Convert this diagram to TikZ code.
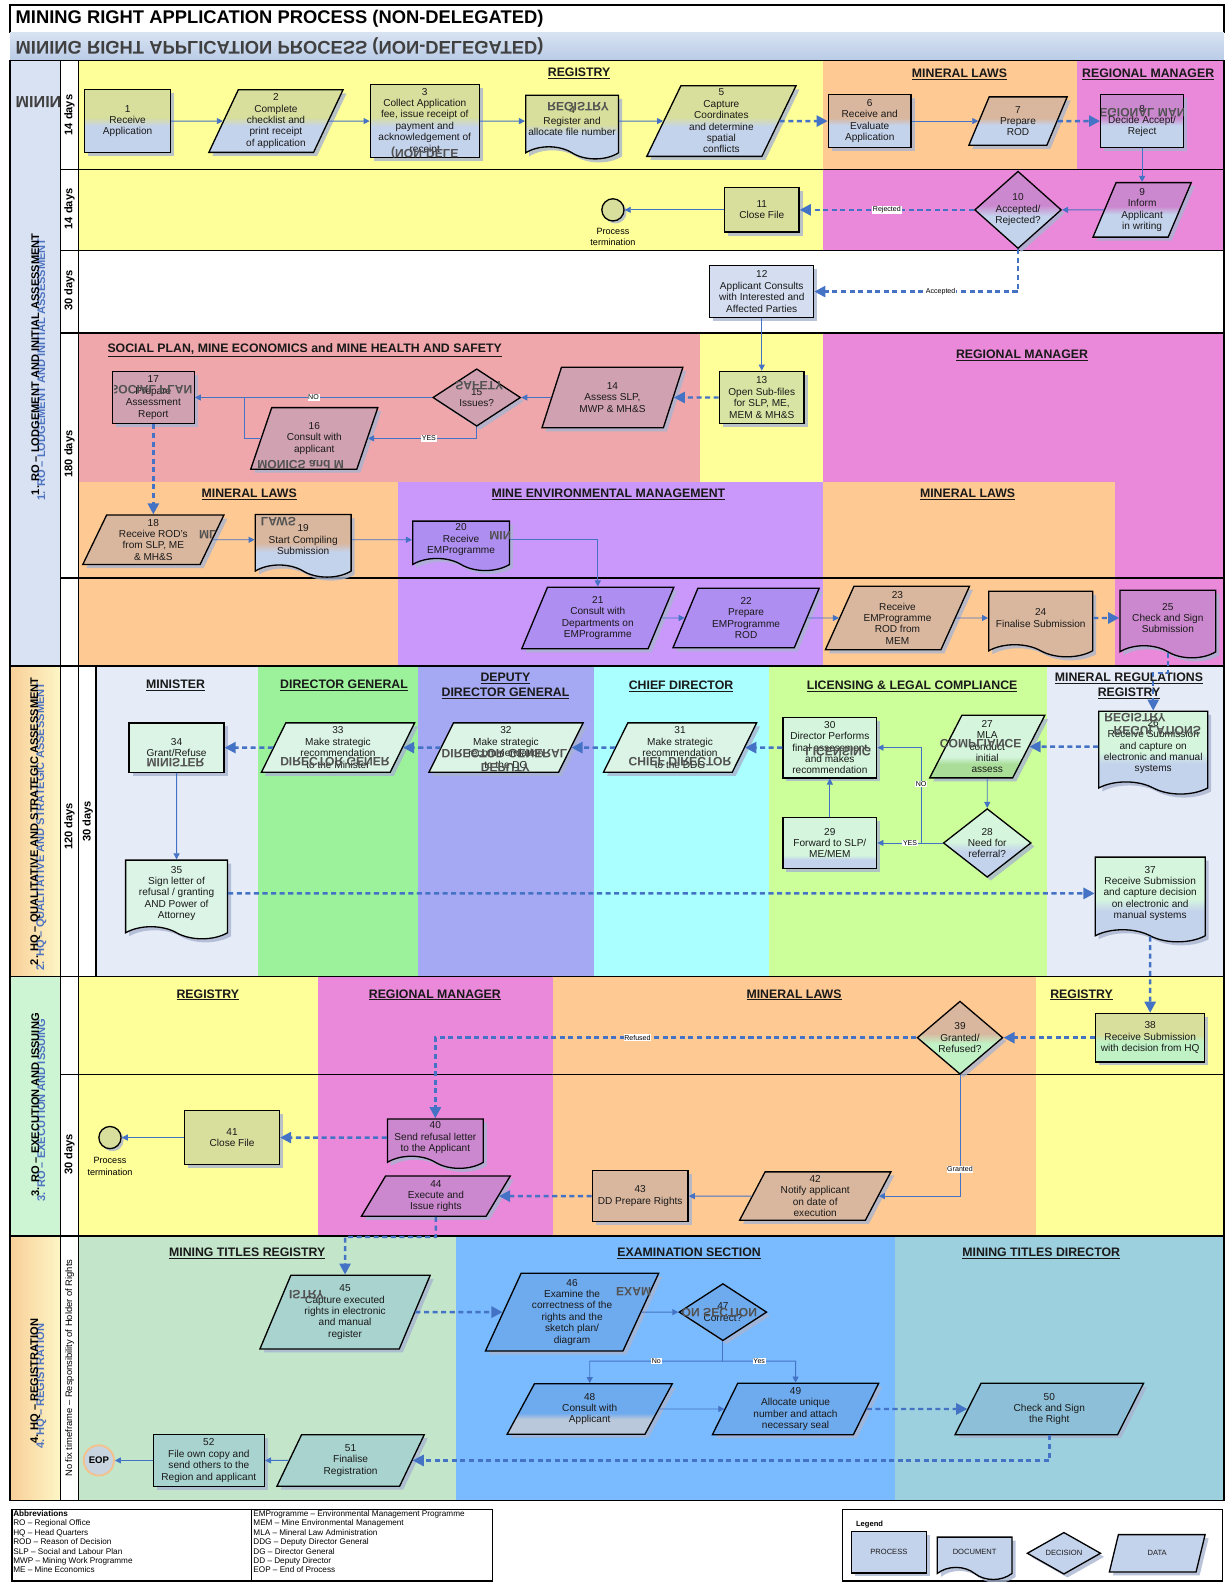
\documentclass[tikz,border=0pt]{standalone}
\usepackage{fontspec}
\setmainfont{Liberation Sans}
\usetikzlibrary{shapes.geometric,shapes.symbols,arrows.meta,shadows,calc}
\definecolor{cBl}{HTML}{C4D3EC}
\definecolor{cY}{HTML}{D8DE9C}
\definecolor{cO}{HTML}{D9B79E}
\definecolor{cP}{HTML}{CC88CF}
\definecolor{cM}{HTML}{CFA1B1}
\definecolor{cV}{HTML}{AE8EF1}
\definecolor{cG}{HTML}{D5F6DD}
\definecolor{cG3}{HTML}{DCF4E6}
\definecolor{cG27}{HTML}{A9DD98}
\definecolor{cW}{HTML}{D4DEF0}
\definecolor{c13}{HTML}{D7E4A4}
\definecolor{cGr}{HTML}{C0F2C6}
\definecolor{cT}{HTML}{A9D3CF}
\definecolor{cE}{HTML}{6EAAEE}
\definecolor{cE2}{HTML}{B9C8DA}
\definecolor{cD}{HTML}{8DC0D8}
\definecolor{shc}{HTML}{A8B4D0}
\definecolor{lc}{HTML}{4472C4}
\definecolor{txt}{HTML}{1A1A1A}
\definecolor{cLY}{HTML}{FFFF99}
\definecolor{cLO}{HTML}{FFC993}
\definecolor{cLP}{HTML}{EA88DA}
\definecolor{cLS}{HTML}{EFA7AB}
\definecolor{cLV}{HTML}{CA98FB}
\definecolor{cLMin}{HTML}{E6ECF7}
\definecolor{cLDG}{HTML}{9BF29B}
\definecolor{cLDDG}{HTML}{A5A8F2}
\definecolor{cLCD}{HTML}{AAFFFF}
\definecolor{cLLic}{HTML}{CCFF99}
\definecolor{cLT}{HTML}{C3E6CB}
\definecolor{cLE}{HTML}{7ABBFF}
\definecolor{cLD}{HTML}{9DD0DE}
\definecolor{band1}{HTML}{D9E2F3}
\definecolor{ph2L}{HTML}{F9CF98}
\definecolor{ph2R}{HTML}{FDF6C6}
\definecolor{ph3}{HTML}{CDF5D3}
\definecolor{phblue}{HTML}{4F74C0}
\definecolor{hdrT}{HTML}{D8E3F2}
\definecolor{hdrB}{HTML}{B9CBE6}
\definecolor{eopO}{HTML}{F5C08A}
\definecolor{eopF}{HTML}{C8D4DF}
\pgfdeclareverticalshading{shY}{100bp}{color(0bp)=(cBl); color(46bp)=(cBl); color(53bp)=(cY); color(100bp)=(cY)}
\pgfdeclareverticalshading{shO}{100bp}{color(0bp)=(cBl); color(46bp)=(cBl); color(53bp)=(cO); color(100bp)=(cO)}
\pgfdeclareverticalshading{shP}{100bp}{color(0bp)=(cBl); color(46bp)=(cBl); color(53bp)=(cP); color(100bp)=(cP)}
\pgfdeclareverticalshading{shG}{100bp}{color(0bp)=(cBl); color(44bp)=(cBl); color(51bp)=(cG); color(100bp)=(cG)}
\pgfdeclareverticalshading{shGs}{100bp}{color(0bp)=(cBl); color(34bp)=(cBl); color(38bp)=(cG); color(100bp)=(cG)}
\pgfdeclareverticalshading{shG27}{100bp}{color(0bp)=(cG27); color(36bp)=(cG27); color(42bp)=(cG); color(100bp)=(cG)}
\pgfdeclareverticalshading{sh38}{100bp}{color(0bp)=(cGr); color(46bp)=(cGr); color(53bp)=(cY); color(100bp)=(cY)}
\pgfdeclareverticalshading{sh39}{100bp}{color(0bp)=(cGr); color(46bp)=(cGr); color(53bp)=(cO); color(100bp)=(cO)}
\pgfdeclareverticalshading{shE2}{100bp}{color(0bp)=(cE2); color(40bp)=(cE2); color(46bp)=(cE); color(100bp)=(cE)}
\newcommand{\ghostat}[6]{%
  \begin{scope}\clip (#1,#2) rectangle (#3,#4);
  \node[yscale=-1, font=\bfseries\fontsize{12}{13}\selectfont, text=black!68, inner sep=0pt] at (#5) {#6};
  \end{scope}}
\tikzset{
  nb/.style={draw=black, line width=1.3pt, align=center, inner sep=0pt, text=txt,
    font=\fontsize{10}{11.3}\selectfont,
    drop shadow={shadow xshift=3.5pt, shadow yshift=-3.5pt, fill=shc, opacity=0.8}},
  proc/.style={nb, rectangle},
  data/.style={nb, trapezium, trapezium left angle=67, trapezium right angle=113, trapezium stretches=true},
  docu/.style={nb, tape, tape bend top=none, tape bend bottom=out and in, tape bend height=12pt},
  deci/.style={nb, diamond},
  wh/.style 2 args={minimum width=#1, minimum height=#2},
  sh/.style={shade, shading=#1},
  sl/.style={draw=lc, line width=0.9pt, -{Triangle[length=6pt,width=6pt]}},
  dl/.style={draw=lc, line width=2.4pt, dash pattern=on 5pt off 3.5pt, -{Triangle[length=11pt,width=11pt]}},
  lab/.style={fill=white, inner sep=0.7pt, font=\fontsize{7}{8}\selectfont, text=black},
  lane/.style={font=\bfseries\fontsize{12.2}{14.5}\selectfont, align=center, text=black!90},
  tday/.style={rotate=90, font=\bfseries\fontsize{11}{13}\selectfont},
  frame/.style={line width=1.3pt, draw=black},
  phl/.style={rotate=90, font=\bfseries\fontsize{11}{13}\selectfont},
  term/.style={circle, draw=black, line width=1.3pt, inner sep=0pt, minimum size=22pt,
    drop shadow={shadow xshift=2.5pt, shadow yshift=-2.5pt, fill=shc, opacity=0.8}},
}
\begin{document}
\begin{tikzpicture}[x=1pt,y=-1pt]
\useasboundingbox (0,0) rectangle (1219,1568);
\fill[white] (0,0) rectangle (1219,1568);
% ---------- header
\draw[frame, fill=white] (10,5) rectangle (1213,32);
\node[anchor=west, font=\bfseries\fontsize{18.2}{20}\selectfont] (title) at (12,18.5) {MINING RIGHT APPLICATION PROCESS (NON-DELEGATED)};
\shade[top color=hdrT, bottom color=hdrB] (10,32) rectangle (1213,60);
\node[anchor=west, yscale=-1, font=\bfseries\fontsize{18.2}{20}\selectfont, text=black!75] (mirror) at (12,46) {MINING RIGHT APPLICATION PROCESS (NON-DELEGATED)};
% ---------- lanes phase 1
\fill[cLY] (78,60) rectangle (816,168);
\fill[cLO] (816,60) rectangle (1067,168);
\fill[cLP] (1067,60) rectangle (1213,168);
\fill[cLY] (78,168) rectangle (816,248);
\fill[cLP] (816,168) rectangle (1213,248);
\fill[white] (78,248) rectangle (1213,330);
\fill[cLS] (78,330) rectangle (694,478);
\fill[cLY] (694,330) rectangle (816,478);
\fill[cLP] (816,330) rectangle (1213,478);
\fill[cLO] (78,478) rectangle (394.5,660);
\fill[cLV] (394.5,478) rectangle (816,660);
\fill[cLO] (816,478) rectangle (1105,660);
\fill[cLP] (1105,478) rectangle (1213,660);
% phase 2
\fill[cLMin] (95,660) rectangle (255.5,968);
\fill[cLDG] (255.5,660) rectangle (414,968);
\fill[cLDDG] (414,660) rectangle (588.5,968);
\fill[cLCD] (588.5,660) rectangle (762,968);
\fill[cLLic] (762,660) rectangle (1038,968);
\fill[cLMin] (1038,660) rectangle (1213,968);
% phase 3
\fill[cLY] (78,968) rectangle (315,1225);
\fill[cLP] (315,968) rectangle (548,1225);
\fill[cLO] (548,968) rectangle (1027,1225);
\fill[cLY] (1027,968) rectangle (1213,1225);
% phase 4
\fill[cLT] (78,1225) rectangle (452,1487);
\fill[cLE] (452,1225) rectangle (887,1487);
\fill[cLD] (887,1225) rectangle (1213,1487);
% left band
\fill[band1] (10,60) rectangle (60,660);
\shade[left color=ph2L, right color=ph2R] (10,660) rectangle (60,968);
\fill[ph3] (10,968) rectangle (60,1225);
\shade[left color=ph2L, right color=ph2R] (10,1225) rectangle (60,1487);
\fill[white] (60,60) rectangle (78,1487);
\fill[white] (78,660) rectangle (95,968);
\begin{scope}
\clip (10,60) rectangle (60,168);
\node[anchor=west, yscale=-1, font=\bfseries\fontsize{16}{18}\selectfont, text=black!75] at (12,101) {MINING RIGHT};
\end{scope}
% ---------- frame lines
\draw[frame] (10,60) rectangle (1213,1487);
\draw[frame] (60,60) -- (60,1487);
\draw[frame] (78,60) -- (78,1487);
\draw[frame] (95,660) -- (95,968);
\foreach \yy in {168,248,330,573,1065} \draw[frame] (60,\yy) -- (1213,\yy);
\foreach \yy in {660,968,1225} \draw[frame] (10,\yy) -- (1213,\yy);
% ---------- phase labels
\node[phl, text=phblue] (p1b) at (41,366) {1. RO – LODGEMENT AND INITIAL ASSESSMENT};
\node[phl] (p1) at (35,361) {1. RO – LODGEMENT AND INITIAL ASSESSMENT};
\node[phl, text=phblue] (p2b) at (41,819) {2. HQ – QUALITATIVE AND STRATEGIC ASSESSMENT};
\node[phl] (p2) at (35,814) {2. HQ – QUALITATIVE AND STRATEGIC ASSESSMENT};
\node[phl, text=phblue] (p3b) at (41,1100) {3. RO – EXECUTION AND ISSUING};
\node[phl] (p3) at (35,1095) {3. RO – EXECUTION AND ISSUING};
\node[phl, text=phblue] (p4b) at (41,1374) {4. HQ – REGISTRATION};
\node[phl] (p4) at (35,1369) {4. HQ – REGISTRATION};
% ---------- time labels
\node[tday] (d1) at (69,114) {14 days};
\node[tday] (d2) at (69,207) {14 days};
\node[tday] (d3) at (69,288) {30 days};
\node[tday] (d4) at (69,450) {180 days};
\node[tday] (d5) at (69,819) {120 days};
\node[tday] (d6) at (87,814) {30 days};
\node[tday] (d7) at (69,1144) {30 days};
\node[rotate=90, font=\fontsize{9.3}{11}\selectfont] (d8) at (69,1356) {No fix timeframe – Responsibility of Holder of Rights};
% ---------- lane labels
\node[lane] (l1) at (574,73) {\underline{REGISTRY}};
\node[lane] (l2) at (951,74) {\underline{MINERAL LAWS}};
\node[lane] (l3) at (1138,74) {\underline{REGIONAL MANAGER}};
\node[lane] (l4) at (302,347) {\underline{SOCIAL PLAN, MINE ECONOMICS and MINE HEALTH AND SAFETY}};
\node[lane] (l5) at (1013,352) {\underline{REGIONAL MANAGER}};
\node[lane] (l6) at (247,490) {\underline{MINERAL LAWS}};
\node[lane] (l7) at (603,490) {\underline{MINE ENVIRONMENTAL MANAGEMENT}};
\node[lane] (l8) at (959,490) {\underline{MINERAL LAWS}};
\node[lane] (l9) at (174,679) {\underline{MINISTER}};
\node[lane] (l10) at (341,679) {\underline{DIRECTOR GENERAL}};
\node[lane] (l11) at (501,680) {\underline{DEPUTY}\\\underline{DIRECTOR GENERAL}};
\node[lane] (l12) at (675,680) {\underline{CHIEF DIRECTOR}};
\node[lane] (l13) at (904,680) {\underline{LICENSING \& LEGAL COMPLIANCE}};
\node[lane] (l14) at (1119,680) {\underline{MINERAL REGULATIONS}\\\underline{REGISTRY}};
\node[lane] (l15) at (206,986) {\underline{REGISTRY}};
\node[lane] (l16) at (431,986) {\underline{REGIONAL MANAGER}};
\node[lane] (l17) at (787,986) {\underline{MINERAL LAWS}};
\node[lane] (l18) at (1072,986) {\underline{REGISTRY}};
\node[lane] (l19) at (245,1242) {\underline{MINING TITLES REGISTRY}};
\node[lane] (l20) at (683,1242) {\underline{EXAMINATION SECTION}};
\node[lane] (l21) at (1032,1242) {\underline{MINING TITLES DIRECTOR}};
% ---------- nodes phase 1
\node[proc, wh={85}{62}, sh=shY] (n1) at (126.5,120) {1\\Receive\\Application};
\node[data, wh={133}{62}, sh=shY] (n2) at (273.5,120) {2\\Complete\\checklist and\\print receipt\\of application};
\node[proc, wh={108}{72}, sh=shY] (n3) at (421,120) {3\\Collect Application\\fee, issue receipt of\\payment and\\acknowledgement of\\receipt};
\node[docu, wh={92}{63}, sh=shY] (n4) at (567,120) {4\\Register and\\allocate file number};
\node[data, wh={148}{70}, sh=shY] (n5) at (715,120) {5\\Capture\\Coordinates\\and determine\\spatial\\conflicts};
\node[proc, wh={82}{53}, sh=shO] (n6) at (862,120) {6\\Receive and\\Evaluate\\Application};
\node[data, wh={98}{48}, sh=shO] (n7) at (1009,120) {7\\Prepare\\ROD};
\node[proc, wh={82}{53}, sh=shP] (n8) at (1132,120) {8\\Decide Accept/\\Reject};
\node[data, wh={98}{54}, sh=shP] (n9) at (1132,208) {9\\Inform\\Applicant\\in writing};
\node[deci, wh={86}{73}, sh=shP] (n10) at (1009,208) {10\\Accepted/\\Rejected?};
\node[proc, wh={74}{44}, fill=cY] (n11) at (755,208) {11\\Close File};
\node[term, fill=cY] (t1) at (607.5,208) {};
\node[align=center, font=\fontsize{9}{11.5}\selectfont] (t1l) at (607.5,235) {Process\\termination};
\node[proc, wh={103}{52}, fill=cW] (n12) at (755,289) {12\\Applicant Consults\\with Interested and\\Affected Parties};
\node[proc, wh={84}{52}, fill=c13] (n13) at (755,394) {13\\Open Sub-files\\for SLP, ME,\\MEM \& MH\&S};
\node[data, wh={140}{60}, fill=cM] (n14) at (607,394) {14\\Assess SLP,\\MWP \& MH\&S};
\node[deci, wh={87}{57}, fill=cM] (n15) at (472.5,394) {15\\Issues?};
\node[data, wh={127}{61}, fill=cM] (n16) at (311.5,434.5) {16\\Consult with\\applicant};
\node[proc, wh={81}{52}, fill=cM] (n17) at (152,394) {17\\Prepare\\Assessment\\Report};
\node[data, wh={140}{49}, fill=cO] (n18) at (152,535) {18\\Receive ROD's\\from SLP, ME\\\& MH\&S};
\node[docu, wh={95}{62}, sh=shO] (n19) at (300.5,535) {19\\Start Compiling\\Submission};
\node[docu, wh={96}{49}, fill=cV] (n20) at (457,535) {20\\Receive\\EMProgramme};
\node[data, wh={151}{61}, fill=cV] (n21) at (592.5,612.5) {21\\Consult with\\Departments on\\EMProgramme};
\node[data, wh={145}{59}, fill=cV] (n22) at (739.5,612.5) {22\\Prepare\\EMProgramme\\ROD};
\node[data, wh={143}{63}, fill=cO] (n23) at (889.5,612.5) {23\\Receive\\EMProgramme\\ROD from\\MEM};
\node[docu, wh={103}{65}, fill=cO] (n24) at (1031.5,612.5) {24\\Finalise Submission};
\node[docu, wh={95}{67}, fill=cP] (n25) at (1157.5,612.5) {25\\Check and Sign\\Submission};
% ---------- phase 2
\node[docu, wh={108}{82}, sh=shG] (n26) at (1143,740) {26\\Receive Submission\\and capture on\\electronic and manual\\systems};
\node[data, wh={115}{62}, sh=shG27] (n27) at (978.5,740) {27\\MLA\\conduct\\initial\\assess};
\node[deci, wh={87}{56}, sh=shG] (n28) at (978.5,835.5) {28\\Need for\\referral?};
\node[proc, wh={93}{51}, sh=shGs] (n29) at (822.5,835.5) {29\\Forward to SLP/\\ME/MEM};
\node[proc, wh={93}{60}, fill=cG] (n30) at (822.5,741) {30\\Director Performs\\final assessment\\and makes\\recommendation};
\node[data, wh={152}{49}, fill=cG3] (n31) at (674,741) {31\\Make strategic\\recommendation\\to the DDG};
\node[data, wh={153}{49}, fill=cG3] (n32) at (501.5,741) {32\\Make strategic\\recommendation\\to the DG};
\node[data, wh={152}{49}, fill=cG3] (n33) at (335,741) {33\\Make strategic\\recommendation\\to the Minister};
\node[proc, wh={94}{49}, fill=cG3] (n34) at (175,741) {34\\Grant/Refuse};
\node[docu, wh={101}{78}, fill=cG3] (n35) at (175,885.5) {35\\Sign letter of\\refusal / granting\\AND Power of\\Attorney};
\node[docu, wh={109}{84}, sh=shG] (n37) at (1140,885.5) {37\\Receive Submission\\and capture decision\\on electronic and\\manual systems};
% ---------- phase 3
\node[proc, wh={108}{48}, sh=sh38] (n38) at (1140,1028.5) {38\\Receive Submission\\with decision from HQ};
\node[deci, wh={85}{57}, sh=sh39] (n39) at (951.5,1028.5) {39\\Granted/\\Refused?};
\node[docu, wh={95}{49}, fill=cP] (n40) at (431.5,1127.5) {40\\Send refusal letter\\to the Applicant};
\node[proc, wh={94}{53}, fill=cY] (n41) at (230,1127.5) {41\\Close File};
\node[term, fill=cY] (t2) at (109,1127.5) {};
\node[align=center, font=\fontsize{9}{11.5}\selectfont] (t2l) at (109,1156) {Process\\termination};
\node[data, wh={150}{48}, fill=cO] (n42) at (808,1185.5) {42\\Notify applicant\\on date of\\execution};
\node[proc, wh={95}{51}, fill=cO] (n43) at (634.5,1185.5) {43\\DD Prepare Rights};
\node[data, wh={148}{40}, fill=cP] (n44) at (432,1185.5) {44\\Execute and\\Issue rights};
% ---------- phase 4
\node[data, wh={169}{73}, fill=cT] (n45) at (342,1300.5) {45\\Capture executed\\rights in electronic\\and manual\\register};
\node[data, wh={172}{77}, fill=cE] (n46) at (567,1300.5) {46\\Examine the\\correctness of the\\rights and the\\sketch plan/\\diagram};
\node[deci, wh={87}{56}, fill=cE] (n47) at (716.5,1300.5) {47\\Correct?};
\node[data, wh={165}{50}, sh=shE2] (n48) at (584.5,1396.5) {48\\Consult with\\Applicant};
\node[data, wh={165}{51}, fill=cE] (n49) at (788.5,1396.5) {49\\Allocate unique\\number and attach\\necessary seal};
\node[data, wh={188}{51}, fill=cD] (n50) at (1040,1396.5) {50\\Check and Sign\\the Right};
\node[data, wh={147}{51}, fill=cT] (n51) at (347.5,1447.5) {51\\Finalise\\Registration};
\node[proc, wh={110}{52}, fill=cT] (n52) at (207,1447.5) {52\\File own copy and\\send others to the\\Region and applicant};
\node[circle, draw=eopO, line width=1.8pt, fill=eopF, minimum size=30pt, inner sep=0pt,
  font=\bfseries\fontsize{9.5}{11}\selectfont] (eop) at (98,1447.5) {EOP};
% ---------- ghost (mirrored) texts printed inside shapes
\ghostat{367}{84}{475}{156}{421,151}{(NON-DELE}
\ghostat{521}{88}{613}{150}{573,106}{REGISTRY}
\ghostat{1092}{95}{1173}{146}{1128,112}{REGIONAL MAN}
\ghostat{113}{369}{192}{419}{150,386}{SOCIAL PLAN}
\ghostat{440}{370}{505}{400}{475,382}{SAFETY}
\ghostat{252}{452}{360}{464}{298,461}{MONICS and M}
\ghostat{256}{508}{300}{530}{276,517}{LAWS}
\ghostat{484}{520}{505}{545}{496,531}{MIN}
\ghostat{196}{520}{216}{545}{206,530}{ML}
\ghostat{130}{745}{222}{765}{174,756}{MINISTER}
\ghostat{262}{745}{404}{765}{332,755}{DIRECTOR GENER}
\ghostat{432}{738}{572}{765}{500,747}{DIRECTOR GENERAL}
\ghostat{432}{752}{572}{766}{501,761}{DEPUTY}
\ghostat{612}{745}{736}{765}{674,755}{CHIEF DIRECTOR}
\ghostat{777}{735}{868}{755}{831,745}{LICENSING}
\ghostat{930}{727}{1025}{748}{972,737}{COMPLIANCE}
\ghostat{1090}{702}{1197}{718}{1125,711}{REGISTRY}
\ghostat{1090}{716}{1197}{733}{1147,724}{REGULATIONS}
\ghostat{270}{1272}{330}{1292}{304,1283}{ISTRY}
\ghostat{605}{1270}{648}{1291}{628,1280}{EXAM}
\ghostat{673}{1290}{758}{1312}{713,1301}{ON SECTION}
% ---------- connectors
\coordinate (j16) at (242,394);
\coordinate (c25) at (1143,667);
\coordinate (j28) at (913,835.5);
\coordinate (c44) at (342,1226);
\coordinate (c47) at (716.5,1349);
\coordinate (c48) at (584.5,1349);
\coordinate (c49) at (788.5,1349);
\draw[sl] (n1) -- (n2);
\draw[sl] (n2) -- (n3);
\draw[sl] (n3) -- (n4);
\draw[sl] (n4) -- (n5);
\draw[dl] (n5) -- (n6);
\draw[sl] (n6) -- (n7);
\draw[dl] (n7) -- (n8);
\draw[sl] (n8) -- (n9);
\draw[sl] (n9) -- (n10);
\draw[dl] (n10) -- node[lab]{Rejected} (n11);
\draw[sl] (n11) -- (t1);
\draw[dl] (n10) |- node[lab,pos=0.69]{Accepted} (n12);
\draw[sl] (n12) -- (n13);
\draw[dl] (n13) -- (n14);
\draw[sl] (n14) -- (n15);
\draw[sl] (n15) -- node[lab]{NO} (n17);
\draw[sl] (n15) |- node[lab,pos=0.72]{YES} (n16);
\draw[sl,-] (n16) -| (j16);
\draw[dl] (n17) -- (n18);
\draw[sl] (n18) -- (n19);
\draw[sl] (n19) -- (n20);
\draw[sl] (n20) -| (n21);
\draw[sl] (n21) -- (n22);
\draw[sl] (n22) -- (n23);
\draw[sl] (n23) -- (n24);
\draw[dl] (n24) -- (n25);
\draw[dl] (n25) |- (c25) -- (n26);
\draw[dl] (n26) -- (n27);
\draw[sl] (n27) -- (n28);
\draw[sl] (n28) -- node[lab]{YES} (n29);
\draw[sl] (j28) |- node[lab,pos=0.31]{NO} (n30);
\draw[sl] (n29) -- (n30);
\draw[dl] (n30) -- (n31);
\draw[dl] (n31) -- (n32);
\draw[dl] (n32) -- (n33);
\draw[dl] (n33) -- (n34);
\draw[sl] (n34) -- (n35);
\draw[dl] (n35) -- (n37);
\draw[dl] (n37) -- (n38);
\draw[dl] (n38) -- (n39);
\draw[dl] (n39) -| node[lab,pos=0.29]{Refused} (n40);
\draw[sl] (n39) |- node[lab,pos=0.39]{Granted} (n42);
\draw[dl] (n40) -- (n41);
\draw[sl] (n41) -- (t2);
\draw[sl] (n42) -- (n43);
\draw[dl] (n43) -- (n44);
\draw[dl] (n44) |- (c44) -- (n45);
\draw[dl] (n45) -- (n46);
\draw[sl] (n46) -- (n47);
\draw[sl,-] (n47) -- (c47);
\draw[sl] (c47) -- node[lab]{No} (c48) -- (n48);
\draw[sl] (c47) -- node[lab]{Yes} (c49) -- (n49);
\draw[sl] (n48) -- (n49);
\draw[dl] (n49) -- (n50);
\draw[dl] (n50) |- (n51);
\draw[sl] (n51) -- (n52);
\draw[sl] (n52) -- (eop);
% ---------- abbreviations
\draw[frame] (12,1496) rectangle (488,1567);
\draw[frame] (249,1496) -- (249,1567);
\node[anchor=north west, align=left, inner sep=0pt, font=\fontsize{8.1}{9.3}\selectfont] (ab1) at (13,1497)
 {\textbf{Abbreviations}\\RO – Regional Office\\HQ – Head Quarters\\ROD – Reason of Decision\\SLP – Social and Labour Plan\\MWP – Mining Work Programme\\ME – Mine Economics};
\node[anchor=north west, align=left, inner sep=0pt, font=\fontsize{8.1}{9.3}\selectfont] (ab2) at (251,1497)
 {EMProgramme – Environmental Management Programme\\MEM – Mine Environmental Management\\MLA – Mineral Law Administration\\DDG – Deputy Director General\\DG – Director General\\DD – Deputy Director\\EOP – End of Process};
% ---------- legend
\draw[frame] (835,1496) rectangle (1212,1567);
\node[anchor=west, font=\bfseries\fontsize{7.5}{9}\selectfont] (lg) at (845,1511) {Legend};
\node[proc, wh={74}{41}, fill=cBl, font=\fontsize{7.5}{9}\selectfont] (lp) at (881,1538.5) {PROCESS};
\node[docu, wh={74}{42}, fill=cBl, font=\fontsize{7.5}{9}\selectfont] (ld) at (966,1538.5) {DOCUMENT};
\node[deci, wh={73}{41}, fill=cBl, font=\fontsize{7.5}{9}\selectfont] (lx) at (1054.5,1539.5) {DECISION};
\node[data, wh={95}{37}, fill=cBl, font=\fontsize{7.5}{9}\selectfont] (la) at (1147,1539.5) {DATA};
\end{tikzpicture}
\end{document}
